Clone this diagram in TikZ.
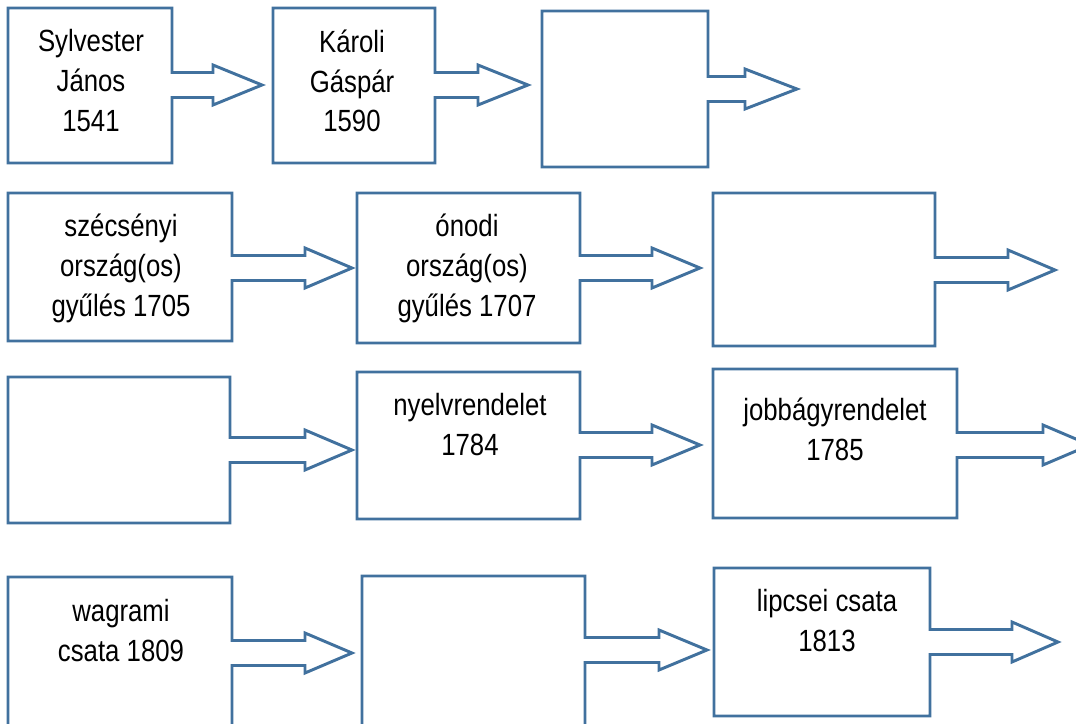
\documentclass[tikz,border=0pt]{standalone}
\usepackage{fontspec}
\setmainfont{Liberation Sans}
\newfontfamily\tallfont[FakeStretch=0.84]{Liberation Sans}
\definecolor{boxline}{RGB}{65,113,158}
\tikzset{
  box/.style={draw=boxline, line width=2.2pt, line join=miter},
  txt/.style={align=center, anchor=north, inner sep=0pt,
    font=\tallfont\fontsize{23}{29.8}\selectfont},
}
% #1,#2 top left; #3,#4 bottom right; #5 arrow height; #6 notch; #7 tip
\newcommand{\arrowbox}[7]{%
  \draw[box] (#1,#2) -- (#3,#2) -- (#3,{#5-12.5}) -- (#6,{#5-12.5})
    -- (#6,{#5-20}) -- (#7,#5) -- (#6,{#5+20}) -- (#6,{#5+12.5})
    -- (#3,{#5+12.5}) -- (#3,#4) -- (#1,#4) -- cycle;}
\begin{document}
\begin{tikzpicture}[x=0.75pt, y=-0.75pt]
  \useasboundingbox (0,0) rectangle (1076,724);
  \clip (0,0) rectangle (1076,724);
  % row 1
  \arrowbox{8}{8}{172}{163}{85}{213}{262}
  \arrowbox{273}{8}{435}{163}{85}{478}{528}
  \arrowbox{542}{11}{708}{167}{89}{745}{797}
  \node[txt] (sylvester) at (91,29.5) {Sylvester\\János\\1541};
  \node[txt] (karoli) at (352,29.5) {Károli\\Gáspár\\1590};
  % row 2
  \arrowbox{8}{193}{232}{341}{268}{305}{352}
  \arrowbox{357}{193}{580}{343}{268}{652}{700}
  \arrowbox{713}{193}{935}{346}{270}{1008}{1055}
  \node[txt] (szecseny) at (121,214) {szécsényi\\ország(os)\\gyűlés 1705};
  \node[txt] (onod) at (467,214) {ónodi\\ország(os)\\gyűlés 1707};
  % row 3
  \arrowbox{8}{377}{230}{523}{450}{305}{352}
  \arrowbox{357}{372}{580}{519}{445}{652}{700}
  \arrowbox{713}{369}{957}{518}{445}{1043}{1090}
  \node[txt] (nyelv) at (470,393) {nyelvrendelet\\1784};
  \node[txt] (jobbagy) at (835,398) {jobbágyrendelet\\1785};
  % row 4
  \arrowbox{8}{577}{232}{740}{653}{305}{352}
  \arrowbox{362}{576}{585}{740}{650}{659}{707}
  \arrowbox{714}{568}{930}{716}{642}{1012}{1058}
  \node[txt] (wagram) at (121,599) {wagrami\\csata 1809};
  \node[txt] (lipcse) at (827,589) {lipcsei csata\\1813};
\end{tikzpicture}
\end{document}
